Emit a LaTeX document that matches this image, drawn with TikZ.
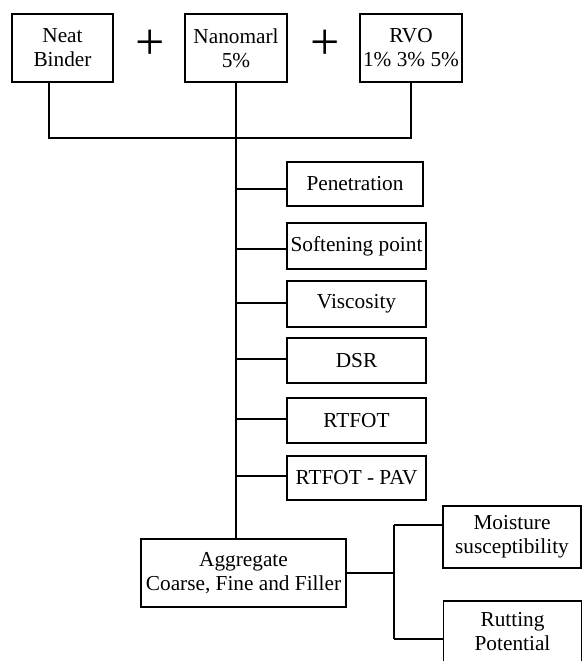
\documentclass[tikz,border=0pt]{standalone}
\usepackage{fontspec}
\setmainfont{Liberation Serif}
\usepackage{tikz}
\usetikzlibrary{positioning, calc}
\tikzset{
  mixbox/.style={rectangle, draw=black, line width=1.3pt,
    minimum width=101pt, minimum height=68pt, inner sep=0pt,
    align=center, font=\fontsize{21.3}{24}\selectfont},
  testbox/.style={rectangle, draw=black, line width=1.3pt,
    minimum width=139pt, minimum height=45pt, inner sep=0pt,
    align=center, font=\fontsize{21.3}{24}\selectfont},
  aggbox/.style={rectangle, draw=black, line width=1.3pt,
    minimum width=205pt, minimum height=68pt, inner sep=0pt,
    align=center, font=\fontsize{21.3}{24}\selectfont},
  mixtestbox/.style={rectangle, draw=black, line width=1.3pt,
    minimum width=138pt, minimum height=62pt, inner sep=0pt,
    align=center, font=\fontsize{21.3}{24}\selectfont},
  plussign/.style={inner sep=0pt, font=\fontsize{52}{52}\selectfont},
  wire/.style={line width=1.3pt, color=black}
}

\begin{document}
\begin{tikzpicture}[x=1pt, y=-1pt]
  \useasboundingbox (0,0) rectangle (581,661);

  % ── Binder ingredients ─────────────────────────────────────────────────────
  \node[mixbox] (neat) at (62.5,48) {Neat\\Binder};
  \node[mixbox, minimum width=102pt] (nano) at (236,48) {Nanomarl\\5\%};
  \node[mixbox, minimum width=102pt] (rvo) at (411,48) {RVO\\1\% 3\% 5\%};
  \node[plussign] (plusA) at (150,45) {+};
  \node[plussign] (plusB) at (325,45) {+};

  % Junction below the three boxes
  \coordinate (join) at (236,138);
  \draw[wire] ([xshift=-13.5pt]neat.south) |- (join) -| (rvo.south);

  % ── Binder tests ───────────────────────────────────────────────────────────
  \node[testbox, minimum width=136pt, minimum height=44pt] (pen) at (355,184) {Penetration};
  \node[testbox, minimum height=46pt] (soft) at (356.5,246) {Softening point};
  \node[testbox, minimum height=46pt] (visc) at (356.5,304) {Viscosity};
  \node[testbox] (dsr) at (356.5,360.5) {DSR};
  \node[testbox] (rtfot) at (356.5,420.5) {RTFOT};
  \node[testbox, minimum height=44pt] (pav) at (356.5,478) {RTFOT - PAV};

  % ── Mixture ────────────────────────────────────────────────────────────────
  \node[aggbox] (agg) at (243.5,573) {Aggregate\\Coarse, Fine and Filler};
  \node[mixtestbox] (moist) at (512,537) {Moisture\\susceptibility};
  \node[mixtestbox] (rut) at (512.5,632) {Rutting\\Potential};

  % Main spine and side branches
  \draw[wire] (nano.south) -- (nano.south |- agg.north);
  \foreach \t/\dy in {pen/-5, soft/-3, visc/1, dsr/1.5, rtfot/1.5, pav/2} {
    \draw[wire] ([yshift=\dy pt]nano.south |- \t.west) -- ([yshift=\dy pt]\t.west);
  }

  % Fork to the mixture tests
  \coordinate (fork) at (394,573);
  \coordinate (forktop) at (394,525);
  \coordinate (forkbot) at (394,639);
  \draw[wire] (agg.east) -- (fork);
  \draw[wire] (forktop) -- (forkbot);
  \draw[wire] (forktop) -- (forktop -| moist.west);
  \draw[wire] (forkbot) -- (forkbot -| rut.west);
\end{tikzpicture}
\end{document}
